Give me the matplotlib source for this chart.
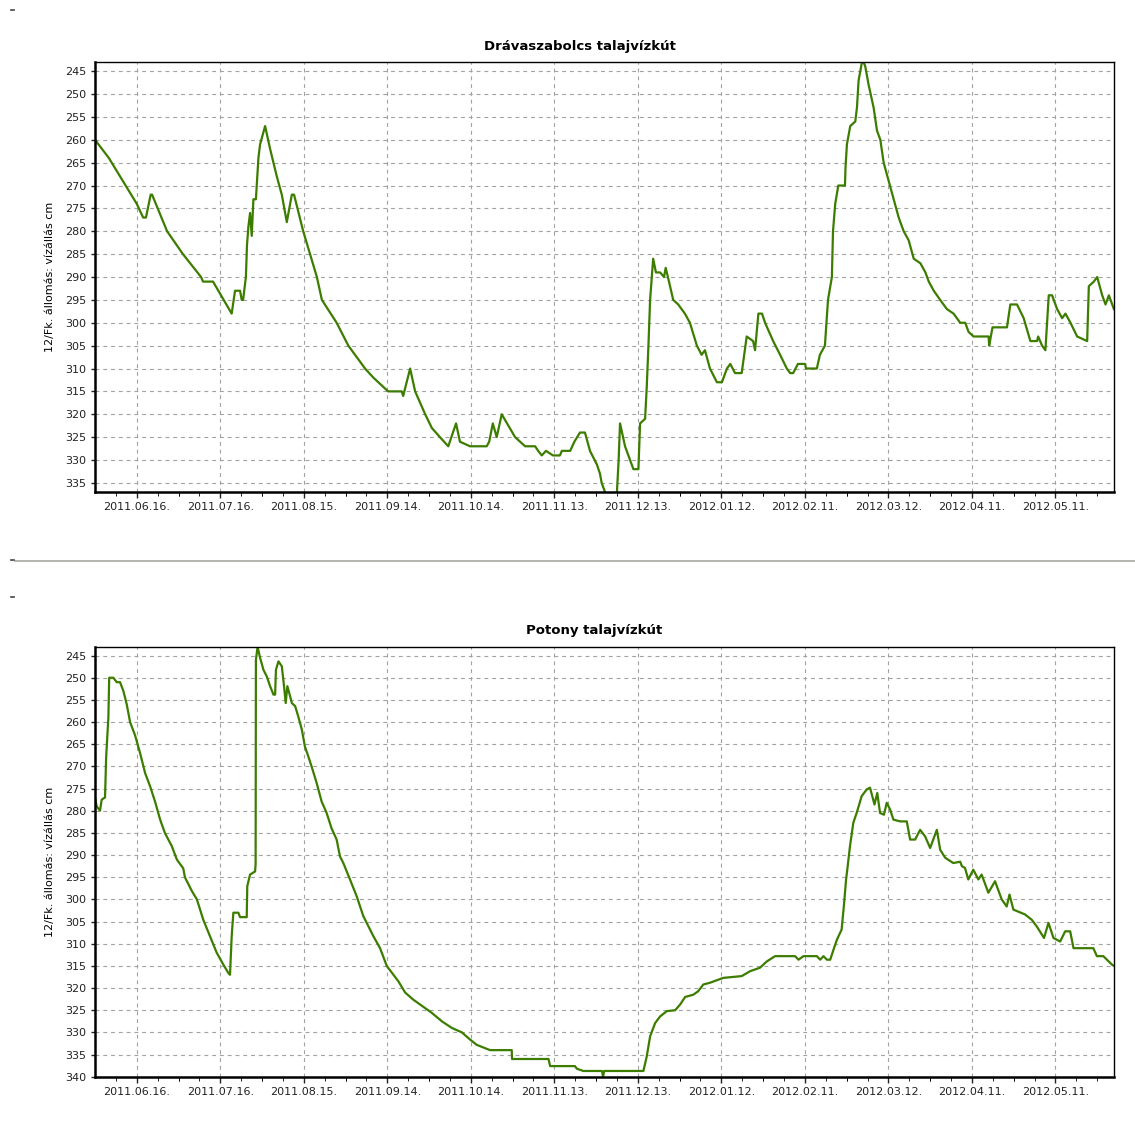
import numpy as np
import pandas as pd
import matplotlib
matplotlib.use("Agg")
from matplotlib import pyplot as plt
import matplotlib.dates as mdates
from matplotlib.lines import Line2D

# napok a 2011.06.01-tol szamolva, vizallas cm-ben
kezdet = pd.Timestamp("2011-06-01")

drava_nap = [0, 5, 10, 15, 17.3, 18.3, 20, 20.5, 25.9, 31.6, 38.1, 38.8, 42.4, 49.1, 50.3, 52.1,
             52.7, 53.2, 54.2, 54.6, 55.1, 55.7, 56.3, 56.9, 57.8, 58.7, 59.3, 61.1, 62.9, 65.3,
             67.1, 68.9, 70.7, 71.5, 74.8, 79.7, 81.5, 86.8, 91.0, 97.0, 100.0, 105.3, 110.2,
             110.7, 113.2, 115.0, 118.6, 121.0, 123.9, 126.9, 129.7, 131.1, 134.7, 140.7, 141.6,
             142.9, 144.3, 146.1, 150.9, 154.5, 158.1, 159.2, 160.5, 162.0, 164.5, 167.0, 167.7,
             170.7, 172.2, 174.2, 176.0, 177.8, 180.3, 181.4, 182.0, 183.8, 187.4, 188.1, 188.6,
             190.4, 192.2, 193.4, 195.2, 195.8, 197.6, 198.2, 198.8, 199.4, 200.0, 200.5, 201.5,
             203.0, 204.4, 205.0, 205.8, 207.7, 209.5, 211.9, 213.7, 216.2, 217.9, 219.1, 220.9,
             223.4, 225.2, 227.0, 228.2, 229.9, 232.3, 234.1, 236.4, 237.1, 238.3, 239.6, 240.7,
             243.6, 246.1, 248.5, 249.7, 250.8, 252.5, 255.1, 255.4, 259.3, 260.4, 262.2, 263.3,
             264.7, 265.1, 265.9, 267.0, 269.4, 269.6, 270.1, 271.3, 273.1, 273.7, 274.3, 275.5,
             276.1, 276.7, 277.9, 279.7, 280.9, 282.1, 283.3, 285.1, 286.9, 288.7, 290.5, 292.3,
             294.1, 296.5, 298.3, 299.5, 301.3, 303.6, 306.0, 308.4, 310.8, 312.6, 313.8, 315.6,
             321.0, 321.2, 322.4, 327.6, 328.8, 331.2, 333.6, 336.0, 338.4, 338.8, 340.2, 341.4,
             342.6, 343.8, 345.6, 347.4, 348.6, 350.4, 352.8, 356.4, 357.0, 358.8, 360.0, 361.8,
             363.0, 364.2, 366.0]
drava_cm = [260, 264, 269, 274, 277, 277, 272, 272, 280, 285, 290, 291, 291, 298, 293, 293,
            295, 295, 290, 283, 279, 276, 281, 273, 273, 264, 261, 257, 262, 268,
            272, 278, 272, 272, 280, 290, 295, 300, 305, 310, 312, 315, 315,
            316, 310, 315, 320, 323, 325, 327, 322, 326, 327, 327, 326,
            322, 325, 320, 325, 327, 327, 328, 329, 328, 329, 329, 328,
            328, 326, 324, 324, 328, 331, 333, 335, 338, 338, 330, 322,
            327, 330, 332, 332, 322, 321, 314, 305, 295, 290, 286, 289,
            289, 290, 288, 290, 295, 296, 298, 300, 305, 307, 306, 310,
            313, 313, 310, 309, 311, 311, 303, 304, 306, 298, 298, 300,
            304, 307, 310, 311, 311, 309, 309, 310, 310, 307, 305, 295,
            290, 280, 274, 270, 270, 266, 261, 257, 256, 253, 247, 243,
            243, 244, 248, 253, 258, 260, 265, 269, 273, 277, 280, 282,
            286, 287, 289, 291, 293, 295, 297, 298, 300, 300, 302, 303,
            303, 305, 301, 301, 296, 296, 299, 304, 304, 303, 305, 306,
            294, 294, 297, 299, 298, 300, 303, 304, 292, 291, 290, 294,
            296, 294, 297]

potony_nap = [0, 0.6, 1.8, 2.4, 3.6, 4.0, 4.8, 5.1, 6.6, 7.8, 9.0, 10.2, 11.4, 12.6, 14.4, 16.2,
              18.0, 19.8, 21.6, 23.4, 25.1, 27.6, 29.4, 31.7, 32.3, 34.7, 36.6, 38.9, 41.3, 43.7,
              46.1, 47.9, 48.5, 49.1, 49.7, 51.5, 52.1, 54.5, 54.7, 55.7, 57.5, 57.7, 57.8, 58.4,
              59.3, 60.5, 61.7, 62.9, 64.1, 64.7, 65.0, 65.9, 67.1, 67.9, 68.5, 69.1, 70.1, 70.7,
              71.9, 73.0, 74.3, 75.4, 76.6, 77.8, 79.6, 81.4, 83.2, 85.0, 86.8, 88.0, 89.2, 91.6,
              94.0, 96.4, 97.6, 100.0, 102.4, 104.8, 107.2, 109.0, 111.4, 114.3, 117.4, 121.0,
              124.6, 128.2, 131.8, 134.7, 137.1, 141.9, 149.7, 149.8, 162.9, 163.5, 172.4, 173.1,
              175.4, 182.1, 182.5, 182.9, 195.8, 197.0, 198.2, 199.4, 201.2, 203.0, 205.4, 208.4,
              210.2, 212.0, 214.9, 216.7, 218.5, 220.9, 225.7, 232.3, 235.3, 238.9, 241.3, 244.3,
              251.5, 252.7, 254.5, 259.3, 260.5, 261.7, 262.9, 264.1, 265.3, 266.5, 268.2, 269.1,
              269.8, 270.3, 271.2, 272.4, 273.6, 275.4, 277.2, 278.4, 280.0, 281.0, 282.0, 283.4,
              284.4, 285.6, 286.8, 289.2, 291.6, 292.8, 294.6, 296.4, 298.2, 300.0, 302.4, 303.6,
              305.4, 308.3, 310.8, 311.4, 312.5, 313.7, 315.5, 317.3, 318.5, 320.9, 323.3, 325.7,
              327.5, 328.5, 329.9, 334.1, 336.5, 338.3, 340.9, 342.5, 344.3, 346.7, 348.5, 350.3,
              351.5, 358.6, 359.9, 362.2, 365.3, 366.0]
potony_cm = [277, 279, 280, 277.5, 277, 268, 259, 250, 250, 251, 251, 253, 256, 260, 263, 267,
             271.5, 274.5, 278, 282, 285, 288, 291, 293, 295, 298, 300, 304.6, 308.3, 312,
             314.7, 316.6, 317, 308.3, 303, 303, 304, 304, 297, 294.4, 293.7, 292, 246, 243,
             245.5, 248.2, 249.7, 251.9, 253.8, 253.8, 248.2, 246.3, 247.4, 251.9, 255.7, 251.9, 254.2, 255.7,
             256.4, 258.7, 261.7, 265.5, 267.7, 270, 273.7, 277.9, 280.5, 284, 286.5, 290.3, 291.8, 295.5,
             299.3, 303.8, 305.3, 308.3, 311, 315, 317, 318.5, 321, 322.6, 324, 325.6,
             327.5, 329, 330, 331.6, 332.8, 334, 334, 336, 336, 337.6, 337.6, 338.2,
             338.7, 338.7, 340, 338.7, 338.7, 338.7, 335.4, 330.9, 327.9, 326.4, 325.2, 325,
             323.7, 322, 321.5, 320.7, 319.2, 318.8, 317.7, 317.3, 316.2, 315.4, 314, 312.8,
             312.8, 313.6, 312.8, 312.8, 313.6, 312.8, 313.6, 313.6, 311.3, 309.1, 306.8, 300.8,
             295.5, 292.9, 288, 282.7, 280.5, 276.7, 275.2, 274.8, 278.6, 276, 280.5, 280.9,
             278.2, 279.7, 282, 282.4, 282.4, 286.5, 286.5, 284.3, 285.8, 288.4, 284.3, 288.8,
             290.6, 291.8, 291.5, 292.5, 292.9, 295.5, 293.3, 295.5, 294.4, 298.5, 295.9, 300,
             301.6, 298.9, 302.3, 303.4, 304.6, 306.1, 308.7, 305.3, 308.7, 309.5, 307.2, 307.2,
             311, 311, 312.8, 312.8, 314.7, 315]

cimek = ["Drávaszabolcs talajvízkút", "Potony talajvízkút"]
y_felirat = "12/Fk. állomás: vízállás cm"
x_tickek = ["2011-06-16", "2011-07-16", "2011-08-15", "2011-09-14", "2011-10-14", "2011-11-13",
            "2011-12-13", "2012-01-12", "2012-02-11", "2012-03-12", "2012-04-11", "2012-05-11"]

zold = "#3c7d00"

fig = plt.figure(figsize=[11.35, 11.4], dpi=100)
ax1 = fig.add_axes([0.0837, 0.5684, 0.8977, 0.3772])
ax2 = fig.add_axes([0.0837, 0.0555, 0.8977, 0.3772])


def rajzol(ax, napok, ertekek, cim, ymax, cim_x):
    datumok = kezdet + pd.to_timedelta(napok, unit="D")
    ax.plot(datumok, ertekek, color=zold, lw=1.6)
    ax.set_xlim(kezdet, pd.Timestamp("2012-06-01"))
    ax.set_ylim(ymax, 243)
    ax.set_yticks(np.arange(245, ymax + 1, 5))
    maj = pd.to_datetime(x_tickek)
    ax.set_xticks(maj)
    minor = [m + pd.Timedelta(hours=180 * k) for m in maj for k in (-2, -1, 1, 2)]
    ax.set_xticks([m for m in minor if kezdet < m < pd.Timestamp("2012-06-01")], minor=True)
    ax.xaxis.set_major_formatter(mdates.DateFormatter("%Y.%m.%d."))
    ax.grid(True, which="major", color="#a2a2a2", ls=(0, (3.5, 3.5)), lw=0.8)
    ax.tick_params(axis="both", labelsize=8, colors="#222222", length=4, width=1)
    ax.tick_params(axis="x", which="minor", length=3)
    ax.tick_params(axis="y", length=3)
    for s in ["left", "bottom"]:
        ax.spines[s].set_linewidth(1.8)
    for s in ["top", "right"]:
        ax.spines[s].set_linewidth(1.0)
    ax.set_title(cim, fontsize=9.5, fontweight="bold", pad=9, x=cim_x)
    ax.set_ylabel(y_felirat, fontsize=8, labelpad=7)


rajzol(ax1, drava_nap, drava_cm, cimek[0], 337, 0.476)
rajzol(ax2, potony_nap, potony_cm, cimek[1], 340, 0.49)

# elvalaszto vonal a ket abra kozott
fig.add_artist(Line2D([15 / 1135, 1], [1 - 561 / 1140] * 2, color="#a8a8a0", lw=1.2))
for yy in [10, 560, 597]:
    fig.add_artist(Line2D([11 / 1135, 14 / 1135], [1 - yy / 1140] * 2, color="#444444", lw=1.2))

fig.savefig("out.png", dpi=100)
